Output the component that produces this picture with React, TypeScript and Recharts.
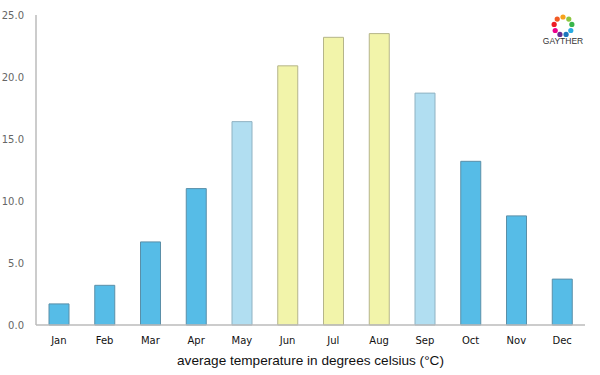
import React from 'react';
import { BarChart, Bar, XAxis, YAxis, Cell } from 'recharts';

const months = ['Jan', 'Feb', 'Mar', 'Apr', 'May', 'Jun', 'Jul', 'Aug', 'Sep', 'Oct', 'Nov', 'Dec'];
const temps = [1.7, 3.2, 6.7, 11.0, 16.4, 20.9, 23.2, 23.5, 18.7, 13.2, 8.8, 3.7];
const seasons = ['cold', 'cold', 'cold', 'cold', 'mild', 'warm', 'warm', 'warm', 'mild', 'cold', 'cold', 'cold'];
const yTicks = [0, 5, 10, 15, 20, 25];

const fills: Record<string, string> = { cold: '#56BCE7', mild: '#B1DEF1', warm: '#F2F4AA' };
const strokes: Record<string, string> = { cold: '#5a8fa8', mild: '#8fb2c2', warm: '#b5b58a' };

const data = months.map((m, i) => ({ month: m, temp: temps[i], season: seasons[i] }));

const Logo = () => {
  const colors = ['#f7a21b', '#8cc63f', '#39b54a', '#29abe2', '#1b75bc', '#662d91', '#ec008c', '#ed1c24', '#f15a24'];
  const cx = 563, cy = 26, r = 9;
  return (
    <svg width={600} height={375} style={{ position: 'absolute', left: 0, top: 0, pointerEvents: 'none' }}>
      {colors.map((c, i) => {
        const a = (i / colors.length) * Math.PI * 2 - Math.PI / 2;
        return <circle key={i} cx={cx + r * Math.cos(a)} cy={cy + r * Math.sin(a)} r={2.6} fill={c} />;
      })}
      <text x={cx} y={44} textAnchor="middle" fontSize={8.5} fontFamily="Liberation Sans, Arial, sans-serif" fill="#333">GAYTHER</text>
    </svg>
  );
};

export default function App() {
  return (
    <div style={{ position: 'absolute', left: 0, top: 0, width: 600, height: 375, background: '#fff' }}>
      <BarChart width={600} height={375} data={data} margin={{ top: 15, right: 15, bottom: 0, left: 0 }} barSize={20}>
        <YAxis
          width={36}
          domain={[0, 25]}
          ticks={yTicks}
          tickFormatter={(v: number) => v.toFixed(1)}
          axisLine={{ stroke: '#cccccc', strokeWidth: 2 }}
          tickLine={false}
          tick={{ fill: '#666', fontSize: 10, fontFamily: 'DejaVu Sans, sans-serif' }}
          tickMargin={6}
        />
        <XAxis
          dataKey="month"
          height={50}
          axisLine={{ stroke: '#bbbbbb', strokeWidth: 1.5 }}
          tickLine={false}
          tick={{ fill: '#111', fontSize: 10, fontFamily: 'DejaVu Sans, sans-serif' }}
          tickMargin={6}
          label={{ value: 'average temperature in degrees celsius (°C)', position: 'insideBottom', offset: 10, fontSize: 13.6, fill: '#111', fontFamily: 'Liberation Sans, Arial, sans-serif' }}
        />
        <Bar dataKey="temp" isAnimationActive={false} strokeWidth={1}>
          {data.map((d, i) => (
            <Cell key={i} fill={fills[d.season]} stroke={strokes[d.season]} />
          ))}
        </Bar>
      </BarChart>
      <Logo />
    </div>
  );
}
